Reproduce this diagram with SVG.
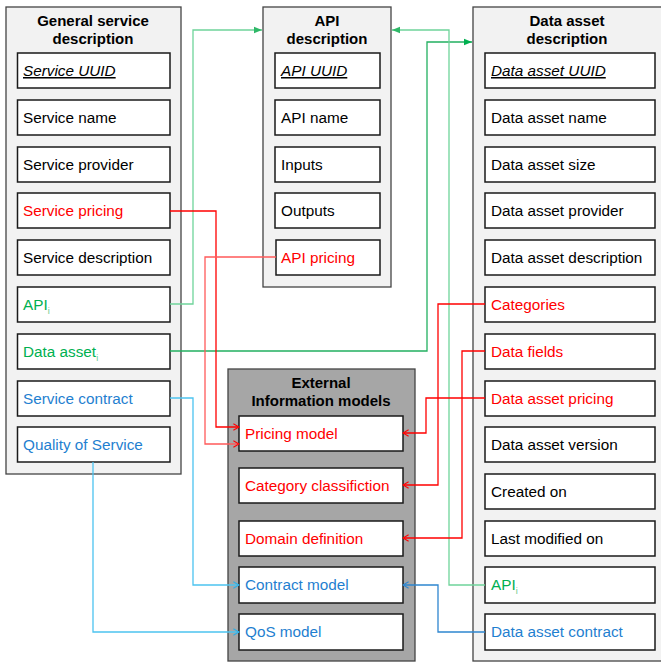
<svg xmlns="http://www.w3.org/2000/svg" width="661" height="665" viewBox="0 0 661 665">
<style>
text{font-family:"Liberation Sans",Arial,sans-serif;font-size:15.3px;fill:#000}
.title{font-weight:bold;text-anchor:middle;font-size:15px}
.cont{fill:#f2f2f2;stroke:#444;stroke-width:1.3}
.ext{fill:#a6a6a6;stroke:#444;stroke-width:1.3}
.item{fill:#fff;stroke:#1a1a1a;stroke-width:1.5}
.red{fill:#ff0000}.grn{fill:#00b050}.blu{fill:#1f7fd0}
.key{font-style:italic;text-decoration:underline}
.c{fill:none;stroke-width:1.3}
.sub{font-size:9px;fill:#66cc88}
</style>
<defs>
<marker id="fg" viewBox="0 0 10 10" refX="10" refY="5" markerWidth="8" markerHeight="8" markerUnits="userSpaceOnUse" orient="auto"><path d="M0,1 L10,5 L0,9 Z" fill="#00b050"/></marker>
<marker id="fgl" viewBox="0 0 10 10" refX="10" refY="5" markerWidth="8" markerHeight="8" markerUnits="userSpaceOnUse" orient="auto"><path d="M0,1 L10,5 L0,9 Z" fill="#2fb868"/></marker>
<marker id="vr" viewBox="0 0 10 10" refX="9" refY="5" markerWidth="8" markerHeight="8" markerUnits="userSpaceOnUse" orient="auto"><path d="M2,1 L9,5 L2,9" fill="none" stroke="#ff0000" stroke-width="1.4"/></marker>
<marker id="vb" viewBox="0 0 10 10" refX="9" refY="5" markerWidth="8" markerHeight="8" markerUnits="userSpaceOnUse" orient="auto"><path d="M2,1 L9,5 L2,9" fill="none" stroke="#2aaee8" stroke-width="1.4"/></marker>
<marker id="vbd" viewBox="0 0 10 10" refX="9" refY="5" markerWidth="8" markerHeight="8" markerUnits="userSpaceOnUse" orient="auto"><path d="M2,1 L9,5 L2,9" fill="none" stroke="#2e86d0" stroke-width="1.4"/></marker>
</defs>

<g id="general-service">
<rect class="cont" x="6" y="7" width="175" height="467"/>
<text class="title" x="93" y="26">General service</text>
<text class="title" x="93" y="44">description</text>
<rect class="item" x="17.5" y="53" width="152.5" height="35"/><text class="key" x="23" y="76">Service UUID</text>
<rect class="item" x="17.5" y="100" width="152.5" height="35"/><text x="23" y="122.5">Service name</text>
<rect class="item" x="17.5" y="147" width="152.5" height="35"/><text x="23" y="169.5">Service provider</text>
<rect class="item" x="17.5" y="193" width="152.5" height="35"/><text class="red" x="23" y="215.5">Service pricing</text>
<rect class="item" x="17.5" y="240" width="152.5" height="35"/><text x="23" y="262.5">Service description</text>
<rect class="item" x="17.5" y="287" width="152.5" height="35"/><text class="grn" x="23" y="309.5">API<tspan class="sub" dy="4">i</tspan></text>
<rect class="item" x="17.5" y="334" width="152.5" height="35"/><text class="grn" x="23" y="356.5">Data asset<tspan class="sub" dy="4">i</tspan></text>
<rect class="item" x="17.5" y="381" width="152.5" height="35"/><text class="blu" x="23" y="403.5">Service contract</text>
<rect class="item" x="17.5" y="427" width="152.5" height="35"/><text class="blu" x="23" y="449.5">Quality of Service</text>
</g>

<g id="api">
<rect class="cont" x="263" y="7" width="128" height="280"/>
<text class="title" x="327" y="26">API</text>
<text class="title" x="327" y="44">description</text>
<rect class="item" x="275" y="53" width="105" height="35"/><text class="key" x="281" y="76">API UUID</text>
<rect class="item" x="275" y="100" width="105" height="35"/><text x="281" y="122.5">API name</text>
<rect class="item" x="275" y="147" width="105" height="35"/><text x="281" y="169.5">Inputs</text>
<rect class="item" x="275" y="193" width="105" height="35"/><text x="281" y="215.5">Outputs</text>
<rect class="item" x="276" y="240" width="104" height="35"/><text class="red" x="281" y="262.5">API pricing</text>
</g>

<g id="data-asset">
<rect class="cont" x="473" y="7" width="195" height="654"/>
<text class="title" x="567" y="26">Data asset</text>
<text class="title" x="567" y="44">description</text>
<rect class="item" x="485" y="53" width="170" height="35"/><text class="key" x="491" y="76">Data asset UUID</text>
<rect class="item" x="485" y="100" width="170" height="35"/><text x="491" y="122.5">Data asset name</text>
<rect class="item" x="485" y="147" width="170" height="35"/><text x="491" y="169.5">Data asset size</text>
<rect class="item" x="485" y="193" width="170" height="35"/><text x="491" y="215.5">Data asset provider</text>
<rect class="item" x="485" y="240" width="170" height="35"/><text x="491" y="262.5">Data asset description</text>
<rect class="item" x="485" y="287" width="170" height="35"/><text class="red" x="491" y="309.5">Categories</text>
<rect class="item" x="485" y="334" width="170" height="35"/><text class="red" x="491" y="356.5">Data fields</text>
<rect class="item" x="485" y="381" width="170" height="35"/><text class="red" x="491" y="403.5">Data asset pricing</text>
<rect class="item" x="485" y="427" width="170" height="35"/><text x="491" y="449.5">Data asset version</text>
<rect class="item" x="485" y="474" width="170" height="35"/><text x="491" y="496.5">Created on</text>
<rect class="item" x="485" y="521" width="170" height="35"/><text x="491" y="543.5">Last modified on</text>
<rect class="item" x="485" y="567" width="170" height="36"/><text class="grn" x="491" y="590">API<tspan class="sub" dy="4">i</tspan></text>
<rect class="item" x="485" y="614" width="170" height="36"/><text class="blu" x="491" y="637">Data asset contract</text>
</g>

<g id="external">
<rect class="ext" x="228" y="369" width="187" height="292"/>
<text class="title" x="321" y="388">External</text>
<text class="title" x="321" y="406">Information models</text>
<rect class="item" x="239" y="416" width="164" height="35"/><text class="red" x="245" y="438.5">Pricing model</text>
<rect class="item" x="239" y="468" width="164" height="35"/><text class="red" x="245" y="490.5">Category classifiction</text>
<rect class="item" x="239" y="521" width="164" height="35"/><text class="red" x="245" y="543.5">Domain definition</text>
<rect class="item" x="239" y="567" width="164" height="36"/><text class="blu" x="245" y="590">Contract model</text>
<rect class="item" x="239" y="614" width="164" height="36"/><text class="blu" x="245" y="637">QoS model</text>
</g>

<g id="connectors">
<path class="c" stroke="#6fd49a" d="M170,304 H193 V30 H262" marker-end="url(#fgl)"/>
<path class="c" stroke="#22b060" d="M170,351 H427 V42 H472" marker-end="url(#fg)"/>
<path class="c" stroke="#6fd49a" d="M485,585 H449 V30 H392" marker-end="url(#fgl)"/>
<path class="c" stroke="#ff0000" d="M170,211 H216 V427 H239" marker-end="url(#vr)"/>
<path class="c" stroke="#ff5a5a" d="M276,257 H205 V444 H239" marker-end="url(#vr)"/>
<path class="c" stroke="#ff0000" d="M485,304 H438 V485 H403" marker-end="url(#vr)"/>
<path class="c" stroke="#ff0000" d="M485,351 H462 V538 H403" marker-end="url(#vr)"/>
<path class="c" stroke="#ff0000" d="M485,398 H426 V433 H403" marker-end="url(#vr)"/>
<path class="c" stroke="#4cc3f0" d="M170,398 H193 V585 H239" marker-end="url(#vb)"/>
<path class="c" stroke="#4cc3f0" d="M93,462 V632 H239" marker-end="url(#vb)"/>
<path class="c" stroke="#2e86d0" d="M485,632 H438 V585 H403" marker-end="url(#vbd)"/>
</g>
</svg>
